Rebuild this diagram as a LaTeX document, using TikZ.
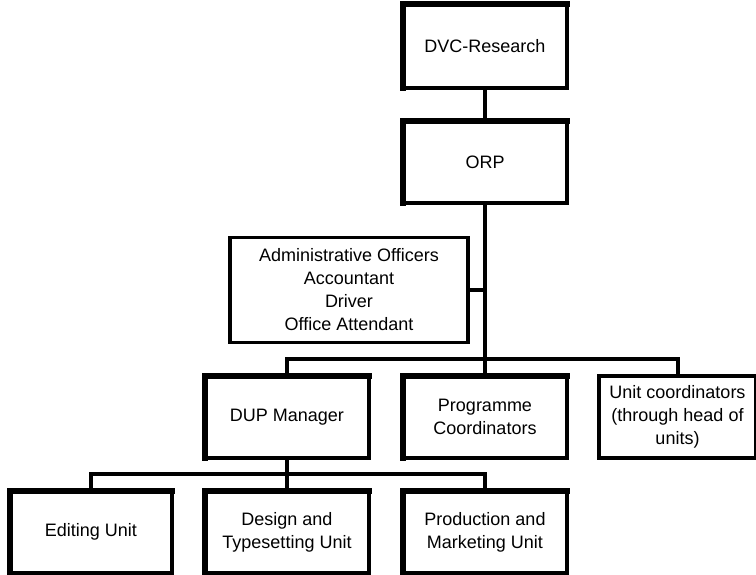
\documentclass[tikz,border=0pt]{standalone}
\usepackage{fontspec}
\setmainfont{Liberation Sans}

\begin{document}
\begin{tikzpicture}[x=1pt,y=-1pt,box/.style={rectangle,draw,line width=3.5pt,fill=white,outer sep=0pt,inner sep=2pt,minimum width=164pt,minimum height=82pt,align=center,font=\fontsize{18}{23}\selectfont},link/.style={line width=4pt},heavy/.style={line width=6.5pt,line cap=rect}]
\useasboundingbox (0,0) rectangle (756,575);
\node[box,minimum height=84pt] (dvc) at (485,46) {DVC-Research};
\node[box] (orp) at (485,162) {ORP};
\node[box,minimum width=238pt,minimum height=105pt] (admin) at (349,290) {Administrative Officers\\Accountant\\Driver\\Office Attendant};
\node[box] (dup) at (287,417) {DUP Manager};
\node[box] (prog) at (485,417) {Programme\\Coordinators};
\node[box,minimum width=157pt] (unit) at (677.5,417) {Unit coordinators\\(through head of\\units)};
\node[box,minimum width=162pt] (edit) at (91,532) {Editing Unit};
\node[box] (design) at (287,532) {Design and\\Typesetting Unit};
\node[box] (prod) at (485,532) {Production and\\Marketing Unit};
\coordinate (j1) at (485,359);
\coordinate (j2) at (287,474);
\draw[link] (dvc) -- (orp);
\draw[link] (orp) -- (j1);
\draw[link] (admin.east) -- (admin.east -| j1);
\draw[link] (dup.north) |- (j1) -| (unit.north);
\draw[link] (j1) -- (prog.north);
\draw[link] (dup) -- (j2);
\draw[link] (edit.north) |- (j2) -| (prod.north);
\draw[link] (j2) -- (design);
\foreach \n in {dvc,orp,dup,prog,edit,design,prod}
  \draw[heavy] (\n.south west) -- (\n.north west) -- (\n.north east);
\end{tikzpicture}
\end{document}
